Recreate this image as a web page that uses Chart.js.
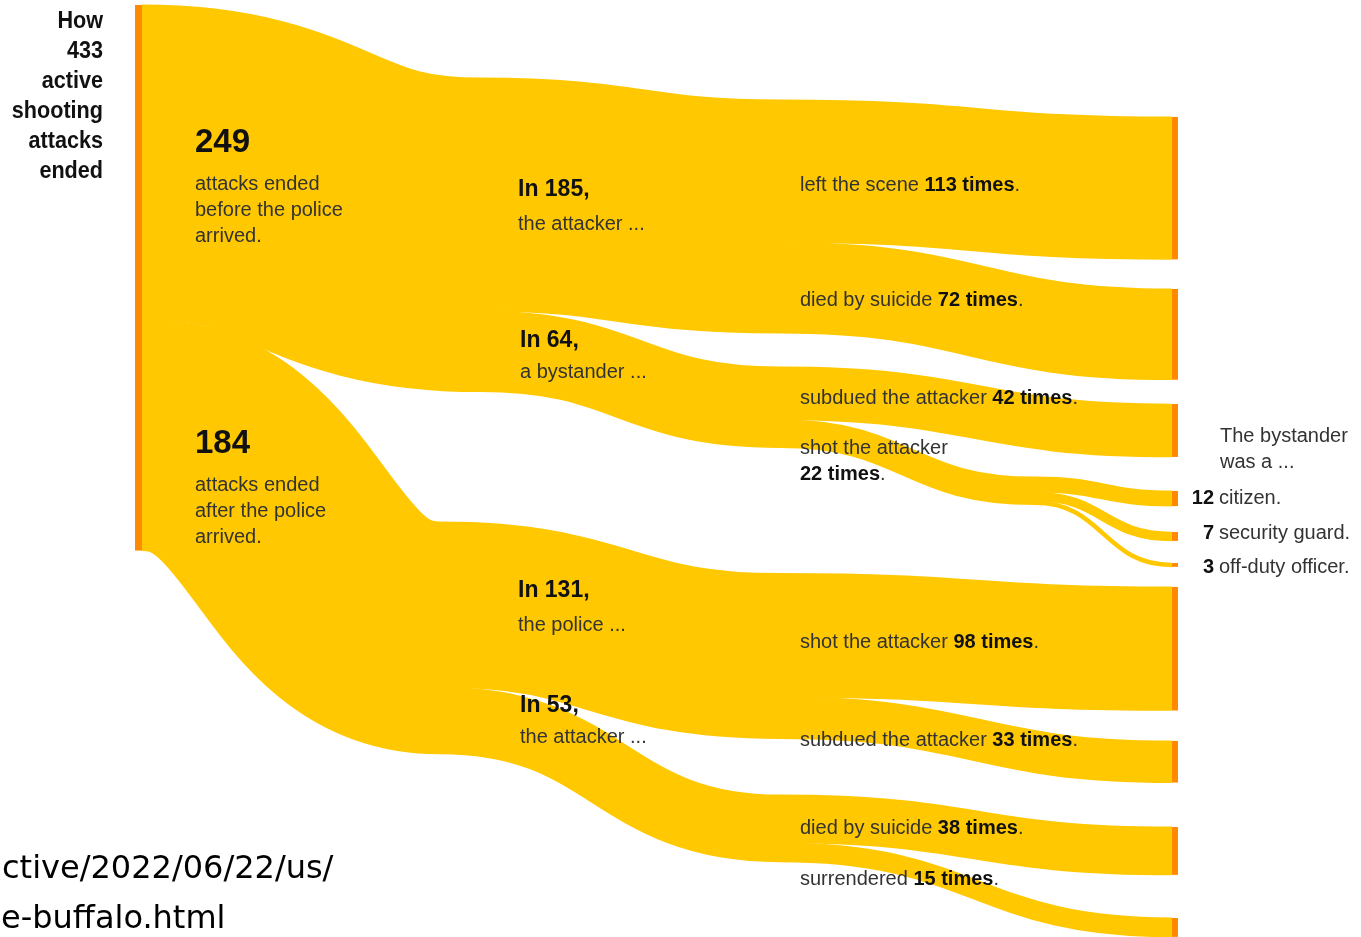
<!DOCTYPE html>
<html><head><meta charset="utf-8">
<script src="https://cdn.jsdelivr.net/npm/chart.js@4.4.1/dist/chart.umd.min.js"></script>
<style>html,body{margin:0;padding:0;background:#fff;overflow:hidden}#wrap{position:relative;width:1361px;height:937px}</style>
</head><body><div id="wrap"><canvas id="c"></canvas></div>
<script>
// ---------------- DATA ----------------
const nodeIds = ['total','before','after','att185','bys64','pol131','att53','left113','sui72','sub42','shot22','shot98','sub33','sui38','sur15','cit12','grd7','off3'];
const linkFrom = ['total','total','before','before','after','after','att185','att185','bys64','bys64','shot22','shot22','shot22','pol131','pol131','att53','att53'];
const linkTo   = ['before','after','att185','bys64','pol131','att53','left113','sui72','sub42','shot22','cit12','grd7','off3','shot98','sub33','sui38','sur15'];
const linkValues = [249,184,185,64,131,53,113,72,42,22,12,7,3,98,33,38,15];

const titleLines = ['How','433','active','shooting','attacks','ended'];
const bigNumbers = ['249','184'];
const bigNumberText = [['attacks ended','before the police','arrived.'],['attacks ended','after the police','arrived.']];
const midHeads = ['In 185,','In 64,','In 131,','In 53,'];
const midSubs = ['the attacker ...','a bystander ...','the police ...','the attacker ...'];
const outcomeLabels = [
  [['left the scene ',0],['113 times',1],['.',0]],
  [['died by suicide ',0],['72 times',1],['.',0]],
  [['subdued the attacker ',0],['42 times',1],['.',0]],
  [['shot the attacker',0]],
  [['22 times',1],['.',0]],
  [['shot the attacker ',0],['98 times',1],['.',0]],
  [['subdued the attacker ',0],['33 times',1],['.',0]],
  [['died by suicide ',0],['38 times',1],['.',0]],
  [['surrendered ',0],['15 times',1],['.',0]]
];
const bystanderHead = ['The bystander','was a ...'];
const bystanderNums = ['12','7','3'];
const bystanderTypes = ['citizen.','security guard.','off-duty officer.'];
const urlLines = ['ctive/2022/06/22/us/','e-buffalo.html'];

// ---------------- LAYOUT ----------------
const columns = [
  ['total'],
  ['before','after'],
  ['att185','bys64','pol131','att53'],
  ['shot22'],
  ['left113','sui72','sub42','cit12','grd7','off3','shot98','sub33','sui38','sur15']
];
const columnX = [142, 460, 780, 1035, 1172];
const nodeXShift = {before: 20, after: -20};
const gapsAbove = [
  [0],
  [57.9, 103.4],
  [75.4, 26.9, 99.9, 44.8],
  [374.6],
  [88.9, 23.5, 19.3, 27, 20.6, 17.6, 16, 24.2, 35.3, 34.2]
];
const PX_PER_UNIT = 1.26, TOP_PX = 5;
const FLOW = '#ffc800', BAR = '#ff8a00';
const FONT = "'Liberation Sans', Arial, sans-serif";
const TXT = '#333333', BOLD = '#111111';

// build graph
const idx = {}; nodeIds.forEach((id,i)=>idx[id]=i);
const nodes = nodeIds.map(id=>({id,inV:0,outV:0,ins:[],outs:[]}));
const links = [];
linkValues.forEach((v,i)=>{
  const s=nodes[idx[linkFrom[i]]], t=nodes[idx[linkTo[i]]];
  const l={s,t,v}; s.outs.push(l); t.ins.push(l); s.outV+=v; t.inV+=v; links.push(l);
});
nodes.forEach(n=>n.value=Math.max(n.inV,n.outV));
columns.forEach((col,ci)=>{
  let cur=0;
  col.forEach((id,k)=>{ const n=nodes[idx[id]]; cur+=gapsAbove[ci][k]; n.top=cur; n.x=columnX[ci]+(nodeXShift[id]||0); n.col=ci; cur+=n.value; });
});
nodes.forEach(n=>{
  n.outs.sort((a,b)=>a.t.top-b.t.top); let o=n.top; n.outs.forEach(l=>{l.sy=o;o+=l.v;});
  n.ins.sort((a,b)=>a.s.top-b.s.top); o=n.top; n.ins.forEach(l=>{l.ty=o;o+=l.v;});
});

function rich(ctx, x, y, parts, size, align, cond){
  const ws = parts.map(([t,b])=>{ctx.font=(b?'bold ':'')+size+'px '+FONT;return ctx.measureText(t).width*(cond||1);});
  const tot = ws.reduce((a,b)=>a+b,0);
  let cx = align==='right'? x-tot : x;
  parts.forEach(([t,b],i)=>{
    ctx.font=(b?'bold ':'')+size+'px '+FONT; ctx.fillStyle=b?BOLD:TXT;
    ctx.save(); ctx.translate(cx,y); ctx.scale(cond||1,1); ctx.fillText(t,0,0); ctx.restore();
    cx+=ws[i];
  });
}

const sankeyPlugin = {
  id:'sankey',
  afterDatasetsDraw(chart){
    const {ctx, scales:{x,y}} = chart;
    const unit = Math.abs(y.getPixelForValue(1)-y.getPixelForValue(0));
    ctx.save();
    ctx.strokeStyle=FLOW; ctx.lineCap='butt';
    links.forEach(l=>{
      const xs=x.getPixelForValue(l.s.x), xt=x.getPixelForValue(l.t.x);
      const ys=y.getPixelForValue(l.sy+l.v/2), yt=y.getPixelForValue(l.ty+l.v/2);
      const xm=(xs+xt)/2;
      ctx.lineWidth=l.v*unit+0.8;
      ctx.beginPath(); ctx.moveTo(xs,ys); ctx.bezierCurveTo(xm,ys,xm,yt,xt,yt); ctx.stroke();
    });
    // end bars
    ctx.fillStyle=BAR;
    nodes.forEach(n=>{
      if(n.col!==0 && n.col!==4) return;
      const x0 = n.col===0 ? x.getPixelForValue(n.x-7) : x.getPixelForValue(n.x);
      const x1 = n.col===0 ? x.getPixelForValue(n.x) : x.getPixelForValue(n.x+6);
      const y0=y.getPixelForValue(n.top), y1=y.getPixelForValue(n.top+n.value);
      ctx.fillRect(x0,y0,x1-x0,y1-y0);
    });
    // texts
    ctx.textBaseline='middle'; ctx.textAlign='left';
    titleLines.forEach((t,i)=>rich(ctx,103,21+i*30,[[t,1]],24,'right',0.9));
    const bnY=[143,444];
    bigNumbers.forEach((t,i)=>{
      rich(ctx,195,bnY[i],[[t,1]],33,'left');
      bigNumberText[i].forEach((s,k)=>rich(ctx,195,bnY[i]+41+k*26,[[s,0]],20,'left'));
    });
    const mhY=[190,341,591,706], mhX=[518,520,518,520];
    midHeads.forEach((t,i)=>{
      rich(ctx,mhX[i],mhY[i],[[t,1]],23,'left');
      rich(ctx,mhX[i],mhY[i]+(i%2?31:34),[[midSubs[i],0]],20,'left');
    });
    const olY=[185,300,398,448,474,642,740,828,879];
    outcomeLabels.forEach((p,i)=>rich(ctx,800,olY[i],p,20,'left'));
    bystanderHead.forEach((t,i)=>rich(ctx,1220,436+i*26,[[t,0]],20,'left'));
    const bY=[498,533,567];
    bystanderNums.forEach((t,i)=>{
      rich(ctx,1214,bY[i],[[t,1]],20,'right');
      rich(ctx,1219,bY[i],[[bystanderTypes[i],0]],20,'left');
    });
    ctx.textBaseline='alphabetic'; ctx.fillStyle='#000'; ctx.font="32px 'DejaVu Sans', sans-serif";
    ctx.fillText(urlLines[0],2,878); ctx.fillText(urlLines[1],1,928);
    ctx.restore();
  }
};

new Chart(document.getElementById('c'),{
  type:'scatter',
  data:{datasets:[{data:[],showLine:false,pointRadius:0}]},
  options:{
    responsive:true, maintainAspectRatio:false, animation:false, events:[],
    layout:{padding:0},
    plugins:{legend:{display:false},tooltip:{enabled:false}},
    scales:{
      x:{type:'linear',min:0,max:1361,display:false},
      y:{type:'linear',reverse:true,min:-TOP_PX/PX_PER_UNIT,max:(937-TOP_PX)/PX_PER_UNIT,display:false}
    }
  },
  plugins:[sankeyPlugin]
});
</script></body></html>
